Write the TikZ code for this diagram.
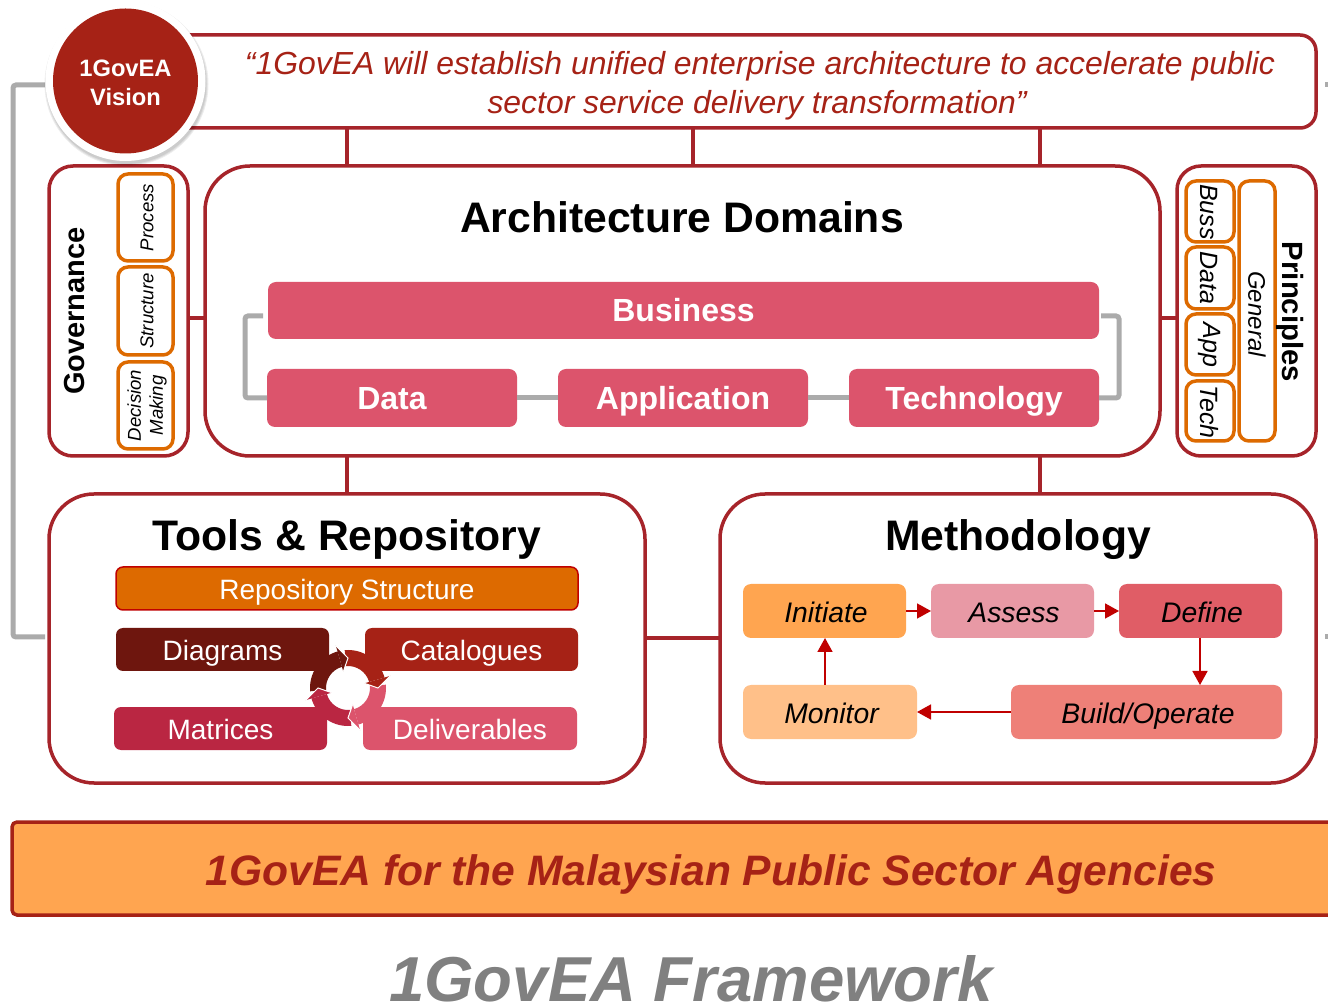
\documentclass[tikz,border=0pt]{standalone}
\usepackage{fontspec}
\setmainfont{Liberation Sans}
\usetikzlibrary{calc,arrows.meta}
\definecolor{brick}{HTML}{A62216}
\definecolor{frame}{HTML}{A6242A}
\definecolor{amber}{HTML}{DD6A00}
\definecolor{rose}{HTML}{DC546C}
\definecolor{wine}{HTML}{6E160E}
\definecolor{crim}{HTML}{BA2642}
\definecolor{peach}{HTML}{FFA550}
\definecolor{pale}{HTML}{FFC089}
\definecolor{pinkish}{HTML}{E899A5}
\definecolor{coral}{HTML}{E05D66}
\definecolor{salmon}{HTML}{EE8078}
\definecolor{gline}{HTML}{ABABAB}
\definecolor{redline}{HTML}{C00000}
\newcommand\fs[1]{\fontsize{#1}{#1}\selectfont}
\newcommand\vc[1]{\rule{0pt}{.72em}\smash{#1}}
\newcommand\vcd[1]{\rule{0pt}{.79em}\smash{#1}}
\newcommand\vcu[1]{\rule{0pt}{.66em}\smash{#1}}
\newcommand\bx[7]{%
  \pgfmathsetmacro\bw{#4-#2}\pgfmathsetmacro\bh{#5-#3}%
  \pgfmathsetmacro\bcx{(#2+#4)/2}\pgfmathsetmacro\bcy{1005-(#3+#5)/2}%
  \node[outer sep=0pt,inner sep=0pt,minimum width=\bw pt,minimum height=\bh pt,#6] (#1) at (\bcx,\bcy) {#7};}
\newcommand\cyctail[3]{% from angle, tip angle, colour
  \pgfmathsetmacro\hb{#2+16}%
  \fill[#3] ($(cyc)+(#1:38)$) arc[start angle=#1,end angle=\hb,radius=38]
    -- ($(cyc)+(\hb:22)$) arc[start angle=\hb,end angle=#1,radius=22] -- cycle;}
\newcommand\cychead[2]{% tip angle, colour
  \pgfmathsetmacro\hb{#1+16}%
  \fill[#2] ($(cyc)+(\hb:44)$) -- ($(cyc)+(#1:30)$) -- ($(cyc)+(\hb:17)$) -- cycle;
  \draw[white,line width=1pt] ($(cyc)+(\hb:44)$) -- ($(cyc)+(#1:30)$) -- ($(cyc)+(\hb:17)$);}
\tikzset{
  x=1pt,y=1pt,
  framebox/.style={draw=frame,line width=3.5pt,fill=white,rounded corners=#1},
  framebox/.default=45pt,
  okbox/.style={draw=amber,line width=3.5pt,fill=white,rounded corners=10pt},
  rosebar/.style={fill=rose,rounded corners=8pt,text=white,font=\fs{32}\bfseries},
  toolbar/.style={fill=#1,rounded corners=7pt,text=white,font=\fs{28}},
  stepcard/.style={fill=#1,rounded corners=8pt,text=black,font=\fs{28.3}\itshape},
  link/.style={draw=frame,line width=3.5pt},
  gray link/.style={draw=gline,line width=5pt,rounded corners=3pt},
  flow/.style={draw=redline,line width=1.6pt,-{Triangle[length=14pt,width=15pt]}},
  title/.style={font=\fs{42.7}\bfseries,text=black},
  vlabel/.style={font=\fontsize{18.6}{22}\selectfont\itshape,align=center,text=black},
  hlabel/.style={font=\fs{25}\itshape,text=black,rotate=-90},
}
\begin{document}
\begin{tikzpicture}
\useasboundingbox (0,0) rectangle (1328,1005);
\clip (0,0) rectangle (1328,1005);
\fill[white] (0,0) rectangle (1328,1005);

% grey outer bracket
\coordinate (ga) at (45,920);
\coordinate (gb) at (45,368);
\draw[gray link] (ga) -- (13,920) -- (13,368) -- (gb);
\coordinate (gc) at (1325,920); \coordinate (gd) at (1330,920);
\coordinate (ge) at (1325,368); \coordinate (gf) at (1330,368);
\draw[draw=gline,line width=5pt] (gc) -- (gd);
\draw[draw=gline,line width=5pt] (ge) -- (gf);

% main boxes
\bx{quote}{150}{35}{1316}{128}{framebox=16pt}{}
\bx{gov}{49}{166}{188}{456}{framebox=24pt}{}
\bx{dom}{205}{166}{1160}{456}{framebox}{}
\bx{prin}{1177}{166}{1316}{456}{framebox=24pt}{}
\bx{tools}{49}{494}{645}{783}{framebox}{}
\bx{meth}{720}{494}{1316}{783}{framebox}{}

% red links
\draw[link] (quote.south -| tools.north) -- (tools.north |- dom.north);
\draw[link] (quote.south -| dom.north) ++(10.5,0) -- ++(0,-38);
\draw[link] ([xshift=22pt]meth.north |- quote.south) -- ([xshift=22pt]meth.north |- dom.north);
\draw[link] ([yshift=-7pt]gov.east) -- ([yshift=-7pt]dom.west);
\draw[link] ([yshift=-7pt]dom.east) -- ([yshift=-7pt]prin.west);
\draw[link] (dom.south -| tools.north) -- (tools.north);
\draw[link] ([xshift=22pt]meth.north |- dom.south) -- ([xshift=22pt]meth.north);
\coordinate (mid) at (0,367);
\draw[link] (tools.east |- mid) -- (meth.west |- mid);

% vision circle
\coordinate (visc) at (125.5,924);
\foreach \r in {80,81,82}{\fill[black,opacity=.07] ($(visc)+(1,-3)$) circle[radius=\r];}
\node[circle,fill=white,minimum size=160pt,inner sep=0pt] (ring) at (visc) {};
\node[circle,fill=brick,minimum size=145pt,inner sep=0pt] (vis) at (visc) {};
\node[text=white,font=\fontsize{23.7}{29}\selectfont\bfseries,align=center] (vist) at ([yshift=-2pt]visc) {1GovEA\\Vision};
\node[font=\fs{31.9}\itshape,text=brick,align=center] (qt1) at (760,939) {“1GovEA will establish unified enterprise architecture to accelerate public};
\node[font=\fs{31.9}\itshape,text=brick,align=center] (qt2) at (757,900) {sector service delivery transformation”};

% governance
\node[font=\fs{29}\bfseries,rotate=90] (govt) at (75,694) {Governance};
\bx{p1}{118}{174}{173}{261}{okbox}{}
\bx{p2}{118}{267}{173}{355}{okbox}{}
\bx{p3}{118}{362}{173}{449}{okbox}{}
\node[vlabel,rotate=90] (p1t) at ([xshift=1.5pt]p1) {Process};
\node[vlabel,rotate=90] (p2t) at ([xshift=1.5pt]p2) {Structure};
\node[vlabel,rotate=90] (p3t) at ([xshift=1.5pt]p3) {Decision\\Making};

% domains
\node[title] (domt) at (682,788) {Architecture Domains};
\bx{bus}{268}{282}{1099}{339}{rosebar}{\vcu{Business}}
\bx{data}{267}{369}{517}{427}{rosebar}{\vc{Data}}
\bx{app}{558}{369}{808}{427}{rosebar}{\vc{Application}}
\bx{tech}{849}{369}{1099}{427}{rosebar}{\vc{Technology}}
\begin{scope}[on background layer/.try]
\end{scope}
\draw[gray link] (data.east) -- (app.west);
\draw[gray link] (app.east) -- (tech.west);
\draw[gray link] ([xshift=-5pt]bus.west |- 0,689) -- (245,689) -- (245,607) -- (data.west);
\draw[gray link] ([xshift=2pt]bus.east |- 0,689) -- (1119,689) -- (1119,607) -- (tech.east);

% principles
\bx{q1}{1186}{181}{1234}{242}{okbox}{}
\bx{q2}{1186}{247}{1234}{309}{okbox}{}
\bx{q3}{1186}{314}{1234}{375}{okbox}{}
\bx{q4}{1186}{381}{1234}{441}{okbox}{}
\bx{q5}{1239}{181}{1275}{441}{okbox}{}
\node[hlabel] (q1t) at (1209,793) {Buss};
\node[hlabel] (q2t) at (1209,727) {Data};
\node[hlabel] (q3t) at (1209,660) {App};
\node[hlabel] (q4t) at (1209,593) {Tech};
\node[font=\fs{24}\itshape,text=black,rotate=-90] (q5t) at (1257,691) {General};
\node[font=\fs{29.3}\bfseries,rotate=-90] (prt) at (1290,693) {Principles};

% tools
\node[title] (toolt) at (347,466) {Tools \& Repository};
\bx{repo}{116}{567}{578}{610}{toolbar=amber,draw=redline,line width=1.5pt}{\vcd{Repository Structure}}
\bx{diag}{116}{628}{329}{671}{toolbar=wine}{\vcd{Diagrams}}
\bx{cat}{365}{628}{578}{671}{toolbar=brick}{\vcd{Catalogues}}
\bx{mat}{114}{707}{327}{750}{toolbar=crim}{\vcd{Matrices}}
\bx{del}{363}{707}{577}{750}{toolbar=rose}{\vcd{Deliverables}}
\coordinate (cyc) at (348,317);
\cyctail{275}{180}{crim}
\cyctail{5}{-90}{rose}
\cyctail{95}{0}{brick}
\cyctail{185}{90}{wine}
\cychead{180}{crim}
\cychead{-90}{rose}
\cychead{0}{brick}
\cychead{90}{wine}

% methodology
\node[title] (metht) at (1018,465) {Methodology};
\bx{ini}{743}{584}{906}{638}{stepcard=peach}{\hspace*{3pt}\vcd{Initiate}}
\bx{ass}{931}{584}{1094}{638}{stepcard=pinkish}{\hspace*{3pt}\vcd{Assess}}
\bx{def}{1119}{584}{1282}{638}{stepcard=coral}{\hspace*{3pt}\vcd{Define}}
\bx{bld}{1011}{685}{1282}{739}{stepcard=salmon}{\hspace*{3pt}\vcd{Build/Operate}}
\bx{mon}{743}{685}{917}{739}{stepcard=pale}{\hspace*{3pt}\vcd{Monitor}}
\draw[flow] (ini) -- (ass);
\draw[flow] (ass) -- (def);
\draw[flow] (def.south -| 1200,0) -- (bld.north -| 1200,0);
\draw[flow] (bld) -- (mon);
\draw[flow] (mon.north -| 825,0) -- (ini.south -| 825,0);

% bottom band
\bx{band}{12}{822}{1400}{915}{fill=peach,draw=brick,line width=3.5pt,rounded corners=5pt}{}
\node[font=\fs{42.6}\bfseries\itshape,text=brick] (bandt) at (711,131) {1GovEA for the Malaysian Public Sector Agencies};
\node[font=\fs{63.5}\bfseries\itshape,text=black!50,anchor=base,inner sep=0pt,outer sep=0pt] (fw) at (691,4) {1GovEA Framework};
\end{tikzpicture}
\end{document}
